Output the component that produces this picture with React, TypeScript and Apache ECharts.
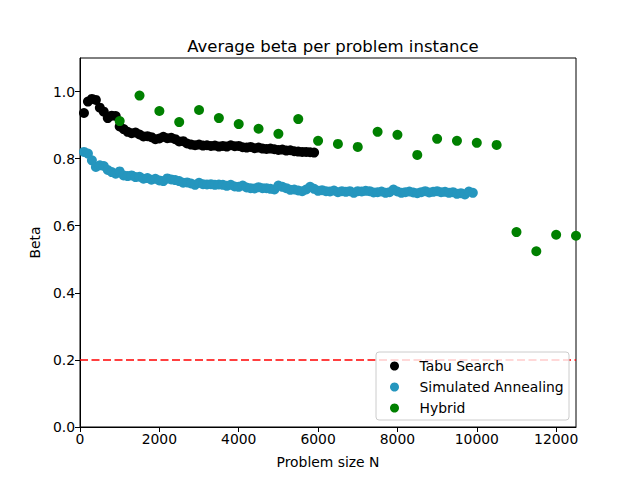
import React, { useEffect, useRef } from "react";
import * as echarts from "echarts";

const tabuN = [
  100, 200, 300, 400, 500, 600, 700, 800, 900, 1000,
  1100, 1200, 1300, 1400, 1500, 1600, 1700, 1800, 1900, 2000,
  2100, 2200, 2300, 2400, 2500, 2600, 2700, 2800, 2900, 3000,
  3100, 3200, 3300, 3400, 3500, 3600, 3700, 3800, 3900, 4000,
  4100, 4200, 4300, 4400, 4500, 4600, 4700, 4800, 4900, 5000,
  5100, 5200, 5300, 5400, 5500, 5600, 5700, 5800, 5900,
];
const tabuBeta = [
  0.936, 0.970, 0.978, 0.975, 0.952, 0.940, 0.921, 0.928, 0.927, 0.896,
  0.888, 0.880, 0.876, 0.878, 0.872, 0.866, 0.867, 0.864, 0.858, 0.860,
  0.865, 0.861, 0.862, 0.858, 0.851, 0.852, 0.845, 0.842, 0.840, 0.842,
  0.839, 0.840, 0.838, 0.839, 0.836, 0.838, 0.836, 0.840, 0.837, 0.838,
  0.834, 0.833, 0.835, 0.831, 0.833, 0.830, 0.829, 0.830, 0.828, 0.826,
  0.827, 0.824, 0.825, 0.822, 0.821, 0.820, 0.820, 0.819, 0.818,
];

const saN = [
  100, 200, 300, 400, 500, 600, 700, 800, 900, 1000,
  1100, 1200, 1300, 1400, 1500, 1600, 1700, 1800, 1900, 2000,
  2100, 2200, 2300, 2400, 2500, 2600, 2700, 2800, 2900, 3000,
  3100, 3200, 3300, 3400, 3500, 3600, 3700, 3800, 3900, 4000,
  4100, 4200, 4300, 4400, 4500, 4600, 4700, 4800, 4900, 5000,
  5100, 5200, 5300, 5400, 5500, 5600, 5700, 5800, 5900, 6000,
  6100, 6200, 6300, 6400, 6500, 6600, 6700, 6800, 6900, 7000,
  7100, 7200, 7300, 7400, 7500, 7600, 7700, 7800, 7900, 8000,
  8100, 8200, 8300, 8400, 8500, 8600, 8700, 8800, 8900, 9000,
  9100, 9200, 9300, 9400, 9500, 9600, 9700, 9800, 9900,
];
const saBeta = [
  0.820, 0.815, 0.795, 0.775, 0.780, 0.778, 0.766, 0.760, 0.755, 0.762,
  0.750, 0.748, 0.750, 0.745, 0.746, 0.740, 0.742, 0.737, 0.740, 0.735,
  0.733, 0.741, 0.738, 0.736, 0.733, 0.728, 0.729, 0.726, 0.722, 0.728,
  0.724, 0.723, 0.724, 0.722, 0.723, 0.722, 0.719, 0.722, 0.717, 0.716,
  0.720, 0.714, 0.712, 0.711, 0.715, 0.712, 0.712, 0.710, 0.708, 0.720,
  0.716, 0.712, 0.707, 0.708, 0.705, 0.703, 0.708, 0.716, 0.710, 0.704,
  0.706, 0.703, 0.702, 0.705, 0.700, 0.703, 0.701, 0.703, 0.698, 0.703,
  0.702, 0.704, 0.703, 0.699, 0.700, 0.702, 0.698, 0.700, 0.708, 0.702,
  0.698, 0.700, 0.702, 0.699, 0.697, 0.700, 0.703, 0.699, 0.701, 0.703,
  0.700, 0.701, 0.698, 0.700, 0.695, 0.697, 0.693, 0.702, 0.698,
];

const hybridN = [
  1000, 1500, 2000, 2500, 3000, 3500, 4000, 4500, 5000, 5500,
  6000, 6500, 7000, 7500, 8000, 8500, 9000, 9500, 10000, 10500,
  11000, 11500, 12000, 12500,
];
const hybridBeta = [
  0.912, 0.988, 0.942, 0.909, 0.945, 0.921, 0.903, 0.889, 0.874, 0.918,
  0.853, 0.844, 0.835, 0.880, 0.871, 0.811, 0.859, 0.853, 0.847, 0.841,
  0.581, 0.524, 0.573, 0.570,
];

const thresholdX = [0, 12500];
const thresholdY = [0.2, 0.2];

const xTicks = [0, 2000, 4000, 6000, 8000, 10000, 12000];
const yTicks = [0, 0.2, 0.4, 0.6, 0.8, 1.0];

const seriesNames = ["Tabu Search", "Simulated Annealing", "Hybrid"];
const FONT = "DejaVu Sans";

function zip(xs: number[], ys: number[]) {
  return xs.map((x, i) => [x, ys[i]]);
}

export default function App() {
  const ref = useRef<HTMLDivElement>(null);
  useEffect(() => {
    if (!ref.current) return;
    const chart = echarts.init(ref.current, null, { renderer: "svg" });
    chart.setOption({
      animation: false,
      textStyle: { fontFamily: FONT },
      title: {
        text: "Average beta per problem instance",
        left: 328,
        textAlign: "center",
        top: 33,
        textStyle: { fontFamily: FONT, fontSize: 16.5, fontWeight: "normal", color: "#000" },
      },
      grid: {
        left: 80,
        right: 64,
        top: 58,
        bottom: 53,
        show: true,
        borderColor: "#000",
        borderWidth: 1,
        backgroundColor: "transparent",
      },
      xAxis: {
        type: "value",
        min: 0,
        max: 12500,
        name: "Problem size N",
        nameLocation: "middle",
        nameGap: 28,
        nameTextStyle: { fontFamily: FONT, fontSize: 13.9, color: "#000" },
        axisLine: { show: true, lineStyle: { color: "#000", width: 1 } },
        axisTick: { show: true, length: 5, lineStyle: { color: "#000" }, customValues: xTicks },
        axisLabel: {
          customValues: xTicks,
          fontFamily: FONT,
          fontSize: 13.9,
          color: "#000",
          margin: 5,
          formatter: (v: number) => String(v),
        },
        splitLine: { show: false },
      },
      yAxis: {
        type: "value",
        min: 0,
        max: 1.1,
        name: "Beta",
        nameLocation: "middle",
        nameGap: 38,
        nameTextStyle: { fontFamily: FONT, fontSize: 13.9, color: "#000" },
        axisLine: { show: true, lineStyle: { color: "#000", width: 1 } },
        axisTick: { show: true, length: 5, lineStyle: { color: "#000" }, customValues: yTicks },
        axisLabel: {
          customValues: yTicks,
          fontFamily: FONT,
          fontSize: 13.9,
          color: "#000",
          margin: 5,
          formatter: (v: number) => v.toFixed(1),
        },
        splitLine: { show: false },
      },
      legend: {
        data: seriesNames,
        orient: "vertical",
        left: 390,
        top: 359,
        padding: 0,
        itemWidth: 40,
        itemHeight: 9,
        itemGap: 7,
        icon: "circle",
        z: 20,
        textStyle: { fontFamily: FONT, fontSize: 13.9, color: "#000", lineHeight: 14 },
      },
      graphic: [
        {
          type: "rect",
          z: 10,
          shape: { x: 376, y: 352, width: 193, height: 68, r: 3 },
          style: { fill: "rgba(255,255,255,0.8)", stroke: "#cccccc", lineWidth: 1 },
        },
      ],
      series: [
        {
          name: "threshold",
          type: "line",
          data: zip(thresholdX, thresholdY),
          symbol: "none",
          lineStyle: { color: "#ff0000", width: 1.5, type: [8, 3.5] },
          z: 1,
        },
        {
          name: seriesNames[0],
          type: "scatter",
          data: zip(tabuN, tabuBeta),
          symbolSize: 10,
          itemStyle: { color: "#000000", opacity: 1 },
          z: 2,
        },
        {
          name: seriesNames[1],
          type: "scatter",
          data: zip(saN, saBeta),
          symbolSize: 10,
          itemStyle: { color: "#2596be", opacity: 1 },
          z: 3,
        },
        {
          name: seriesNames[2],
          type: "scatter",
          data: zip(hybridN, hybridBeta),
          symbolSize: 10,
          itemStyle: { color: "#008000", opacity: 1 },
          z: 4,
        },
      ],
    });
    return () => chart.dispose();
  }, []);
  return <div ref={ref} style={{ width: 640, height: 480, position: "absolute", left: 0, top: 0 }} />;
}
